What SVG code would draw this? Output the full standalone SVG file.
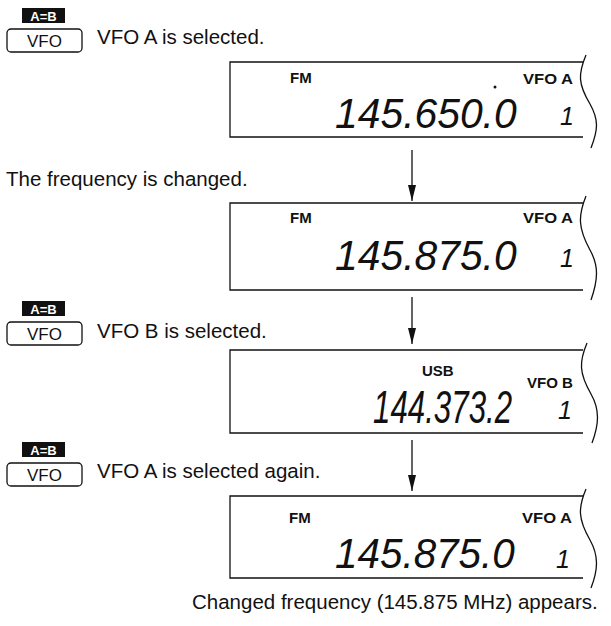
<svg xmlns="http://www.w3.org/2000/svg" width="611" height="626" viewBox="0 0 611 626">
<style>
.t{font-family:"Liberation Sans",Arial,sans-serif;font-size:20.5px;fill:#111}
.lab{font-family:"Liberation Sans",Arial,sans-serif;font-size:15px;font-weight:bold;fill:#111}
.seg{font-family:"Liberation Sans",Arial,sans-serif;font-style:italic;font-size:43px;fill:#111}
.one{font-family:"Liberation Sans",Arial,sans-serif;font-style:italic;font-size:25px;fill:#111}
.key{fill:#111}
.keyt{font-family:"Liberation Sans",Arial,sans-serif;font-size:13px;font-weight:bold;fill:#fff}
.btn{fill:none;stroke:#111;stroke-width:1.3}
.btnt{font-family:"Liberation Sans",Arial,sans-serif;font-size:17px;fill:#111}
.box{fill:none;stroke:#111;stroke-width:1.3}
.conn{stroke:#111;stroke-width:1.3;fill:none}
</style>
<defs>
<marker id="arr" viewBox="0 0 16 10" refX="16" refY="5" markerWidth="16" markerHeight="10" markerUnits="userSpaceOnUse" orient="auto">
<path d="M0,1 L16,5 L0,9 Z" fill="#111"/>
</marker>
</defs>

<g id="key1">
<rect class="key" x="22" y="8" width="43" height="15"/>
<text class="keyt" x="43.5" y="20.5" text-anchor="middle">A=B</text>
<rect class="btn" x="7" y="29" width="75" height="23" rx="4"/>
<text class="btnt" x="44.5" y="46.5" text-anchor="middle">VFO</text>
<text class="t" x="97" y="44">VFO A is selected.</text>
</g>

<g id="display1">
<path class="box" d="M583,62 L230,62 L230,137 L583,137"/>
<path class="box" d="M586,55 C578,74 578,84 590,104 C599,120 598,130 591,148"/>
<text class="lab" x="290" y="83">FM</text>
<text class="lab" x="523" y="84" textLength="50" lengthAdjust="spacingAndGlyphs">VFO A</text>
<circle cx="495" cy="87" r="1.5" fill="#111"/>
<text class="seg" transform="translate(335,128) scale(0.95,1)">145.650.0</text>
<text class="one" x="560" y="125">1</text>
</g>

<g id="note1">
<text class="t" x="6" y="186">The frequency is changed.</text>
</g>

<g id="display2">
<path class="box" d="M583,203 L230,203 L230,290 L583,290"/>
<path class="box" d="M586,196 C578,216 578,228 590,250 C599,266 598,280 591,300"/>
<text class="lab" x="290" y="223">FM</text>
<text class="lab" x="523" y="223" textLength="50" lengthAdjust="spacingAndGlyphs">VFO A</text>
<text class="seg" transform="translate(335,270) scale(0.95,1)">145.875.0</text>
<text class="one" x="560" y="267">1</text>
</g>

<g id="key2">
<rect class="key" x="22" y="301" width="43" height="15"/>
<text class="keyt" x="43.5" y="313.5" text-anchor="middle">A=B</text>
<rect class="btn" x="7" y="322" width="75" height="23" rx="4"/>
<text class="btnt" x="44.5" y="339.5" text-anchor="middle">VFO</text>
<text class="t" x="97" y="338">VFO B is selected.</text>
</g>

<g id="display3">
<path class="box" d="M583,350 L230,350 L230,433 L583,433"/>
<path class="box" d="M587,343 C579,362 579,373 591,394 C600,410 599,424 592,443"/>
<text class="lab" x="422" y="376">USB</text>
<text class="lab" x="527" y="388" textLength="46" lengthAdjust="spacingAndGlyphs">VFO B</text>
<text class="seg" transform="translate(373,423) scale(0.68,1)" style="font-size:46px">144.373.2</text>
<text class="one" x="558" y="419">1</text>
</g>

<g id="key3">
<rect class="key" x="22" y="442" width="43" height="15"/>
<text class="keyt" x="43.5" y="454.5" text-anchor="middle">A=B</text>
<rect class="btn" x="7" y="463" width="75" height="23" rx="4"/>
<text class="btnt" x="44.5" y="480.5" text-anchor="middle">VFO</text>
<text class="t" x="97" y="478">VFO A is selected again.</text>
</g>

<g id="display4">
<path class="box" d="M583,496 L230,496 L230,578 L583,578"/>
<path class="box" d="M586,489 C578,508 578,519 590,540 C599,556 598,570 591,588"/>
<text class="lab" x="289" y="523">FM</text>
<text class="lab" x="522" y="523" textLength="50" lengthAdjust="spacingAndGlyphs">VFO A</text>
<text class="seg" transform="translate(335,568) scale(0.94,1)">145.875.0</text>
<text class="one" x="556" y="568">1</text>
</g>

<g id="caption">
<text class="t" x="192" y="609">Changed frequency (145.875 MHz) appears.</text>
</g>

<g id="connectors">
<line class="conn" x1="412" y1="150" x2="412" y2="201" marker-end="url(#arr)"/>
<line class="conn" x1="412" y1="297" x2="412" y2="344" marker-end="url(#arr)"/>
<line class="conn" x1="412" y1="440" x2="412" y2="491" marker-end="url(#arr)"/>
</g>
</svg>
